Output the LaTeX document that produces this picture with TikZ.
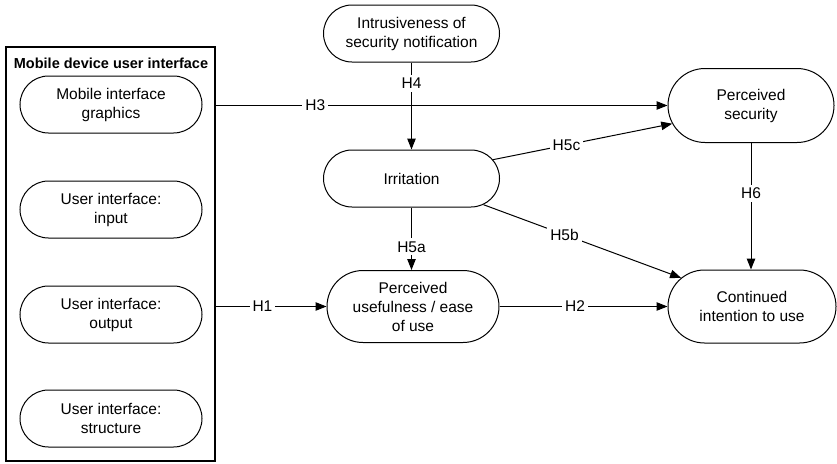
\documentclass[tikz,border=0pt]{standalone}
\usepackage{fontspec}
\setmainfont{Liberation Sans}
\usetikzlibrary{shapes.misc,arrows.meta}
\begin{document}
\begin{tikzpicture}[x=1pt,y=-1pt,
  box/.style={draw, rounded rectangle, line width=1pt, align=center,
    font=\fontsize{15.5}{19}\selectfont, inner sep=0pt},
  conn/.style={line width=1pt, -{Triangle[length=11pt,width=8.5pt]}},
  lab/.style={fill=white, inner sep=3pt, font=\fontsize{15.5}{19}\selectfont}]
\useasboundingbox (0,0) rectangle (837,463);
% left group
\node[draw, line width=2pt, minimum width=209pt, minimum height=414pt, inner sep=0pt] (outer) at (110.5,254) {};
\node[font=\bfseries\fontsize{14.5}{17}\selectfont] (title) at (111,63) {Mobile device user interface};
\node[box, minimum width=182pt, minimum height=57pt] (g) at (111,104.5) {Mobile interface\\graphics};
\node[box, minimum width=182pt, minimum height=57pt] (uin) at (111,209.5) {User interface:\\input};
\node[box, minimum width=182pt, minimum height=57pt] (uout) at (111,314.5) {User interface:\\output};
\node[box, minimum width=182pt, minimum height=57pt] (ustr) at (111,418.5) {User interface:\\structure};
% other nodes
\node[box, minimum width=176pt, minimum height=57pt] (intr) at (411.5,33.5) {Intrusiveness of\\security notification};
\node[box, minimum width=176pt, minimum height=57pt] (irr) at (411.5,178.5) {Irritation};
\node[box, minimum width=172pt, minimum height=72pt] (pu) at (413,306.5) {Perceived\\usefulness / ease\\of use};
\node[box, minimum width=166pt, minimum height=74pt] (ps) at (751,105.5) {Perceived\\security};
\node[box, minimum width=168pt, minimum height=73pt] (ci) at (752,306.5) {Continued\\intention to use};
% connectors
\draw[conn] (outer.east |- ps.west) -- node[lab,pos=0.22]{H3} (ps.west);
\draw[conn] (outer.east |- pu.west) -- node[lab,pos=0.42]{H1} (pu.west);
\draw[conn] (pu.east) -- node[lab,pos=0.45]{H2} (ci.west);
\draw[conn] (intr.south) -- node[lab,pos=0.24]{H4} (irr.north);
\draw[conn] (irr.south) -- node[lab,pos=0.63]{H5a} (irr.south |- pu.north);
\draw[conn] (irr.13) -- node[lab,pos=0.41]{H5c} (ps.193);
\draw[conn] (irr.-20) -- node[lab,pos=0.41]{H5b} (ci.158);
\draw[conn] (ps.south) -- node[lab,pos=0.4]{H6} (ps.south |- ci.north);
\end{tikzpicture}
\end{document}
